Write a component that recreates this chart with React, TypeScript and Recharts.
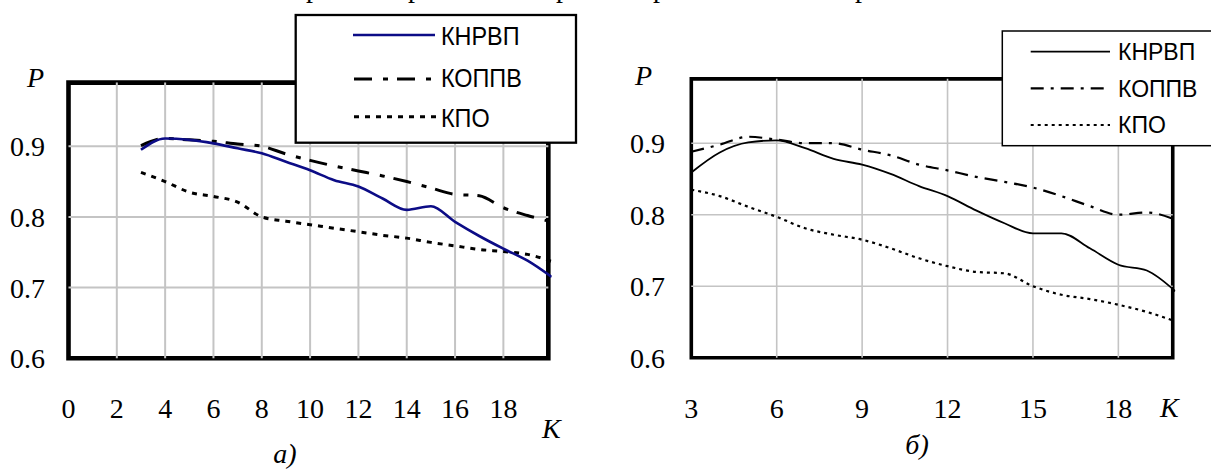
import React from 'react';
import { LineChart, Line, XAxis, YAxis, ReferenceLine, ReferenceArea } from 'recharts';

// ---------- data ----------
const kValues = [3, 4, 5, 6, 7, 8, 9, 10, 11, 12, 13, 14, 15, 16, 17, 18, 19, 20];
const seriesNames = ['КНРВП', 'КОППВ', 'КПО'];

// chart а)
const aKnrvp = [0.895, 0.911, 0.909, 0.904, 0.897, 0.890, 0.878, 0.866, 0.852, 0.843, 0.826, 0.810, 0.815, 0.793, 0.773, 0.755, 0.738, 0.715];
const aKoppv = [0.901, 0.911, 0.909, 0.907, 0.903, 0.900, 0.889, 0.880, 0.872, 0.865, 0.858, 0.850, 0.841, 0.832, 0.830, 0.813, 0.802, 0.793];
const aKpo = [0.863, 0.850, 0.835, 0.829, 0.821, 0.800, 0.794, 0.789, 0.784, 0.779, 0.774, 0.770, 0.764, 0.759, 0.754, 0.751, 0.747, 0.737];

// chart б)
const bKnrvp = [0.859, 0.887, 0.901, 0.904, 0.893, 0.878, 0.870, 0.857, 0.840, 0.826, 0.806, 0.788, 0.774, 0.774, 0.753, 0.730, 0.722, 0.693];
const bKoppv = [0.888, 0.898, 0.909, 0.905, 0.900, 0.900, 0.891, 0.883, 0.870, 0.862, 0.853, 0.846, 0.838, 0.826, 0.812, 0.800, 0.803, 0.793];
const bKpo = [0.835, 0.826, 0.811, 0.797, 0.781, 0.772, 0.765, 0.753, 0.739, 0.728, 0.720, 0.718, 0.700, 0.688, 0.682, 0.674, 0.664, 0.651];

const aXTicks = [0, 2, 4, 6, 8, 10, 12, 14, 16, 18];
const bXTicks = [3, 6, 9, 12, 15, 18];
const yTicks = [0.6, 0.7, 0.8, 0.9];
const aGridX = [2, 4, 6, 8, 10, 12, 14, 16, 18];
const bGridX = [6, 9, 12, 15, 18];
const gridY = [0.7, 0.8, 0.9];
const yDomain: [number, number] = [0.6, 0.99];
const aXDomain: [number, number] = [0, 20];
const bXDomain: [number, number] = [3, 20];
const aFrameRight = 19.86;
const bFrameRight = 19.91;
const topFragments = [306, 408, 556, 653, 855];

const aData = kValues.map((k, i) => ({ k, knrvp: aKnrvp[i], koppv: aKoppv[i], kpo: aKpo[i] }));
const bData = kValues.map((k, i) => ({ k, knrvp: bKnrvp[i], koppv: bKoppv[i], kpo: bKpo[i] }));

const SERIF = 'Liberation Serif';
const SANS = 'Liberation Sans';
const GRID = '#c4c4c4';

const serifText = { fontFamily: SERIF, fontSize: 28 } as const;
const italicText = { fontFamily: SERIF, fontSize: 28, fontStyle: 'italic' } as const;

const makeXTick = (baseline: number) => (props: any) => (
  <text x={props.x} y={baseline} textAnchor="middle" style={serifText} fill="#000">
    {props.payload.value}
  </text>
);
const makeYTick = (rightX: number) => (props: any) => (
  <text x={rightX} y={props.y + 10} textAnchor="end" style={serifText} fill="#000">
    {Number(props.payload.value).toFixed(1)}
  </text>
);

export default function App() {
  return (
    <div style={{ position: 'absolute', left: 0, top: 0, width: 1211, height: 471, background: '#fff', overflow: 'hidden' }}>
      <div style={{ position: 'absolute', left: 0, top: 0 }}>
        <LineChart width={600} height={471} data={aData} margin={{ top: 82.6, right: 48.3, bottom: 102.7, left: 58.5 }}>
          <XAxis type="number" dataKey="k" domain={aXDomain} ticks={aXTicks} height={10} axisLine={false} tickLine={false}
            tick={makeXTick(417.5)} interval={0} allowDataOverflow />
          <YAxis type="number" domain={yDomain} ticks={yTicks} width={10} axisLine={false} tickLine={false}
            tick={makeYTick(45)} interval={0} allowDataOverflow />
          {gridY.map((v) => (
            <ReferenceLine key={'gy' + v} segment={[{ x: 0, y: v }, { x: aFrameRight, y: v }]} stroke={GRID} strokeWidth={2} />
          ))}
          {aGridX.map((v) => (
            <ReferenceLine key={'gx' + v} segment={[{ x: v, y: yDomain[0] }, { x: v, y: yDomain[1] }]} stroke={GRID} strokeWidth={2} />
          ))}
          <ReferenceArea x1={0} x2={aFrameRight} y1={yDomain[0]} y2={yDomain[1]} fill="none" fillOpacity={0} stroke="#000" strokeWidth={4.6} />
          <Line type="monotone" dataKey="koppv" name={seriesNames[1]} stroke="#000" strokeWidth={3} strokeDasharray="18 11 5 9" dot={false} isAnimationActive={false} />
          <Line type="monotone" dataKey="kpo" name={seriesNames[2]} stroke="#000" strokeWidth={3} strokeDasharray="5 6" dot={false} isAnimationActive={false} />
          <Line type="monotone" dataKey="knrvp" name={seriesNames[0]} stroke="#0c0c86" strokeWidth={2.6} dot={false} isAnimationActive={false} />
        </LineChart>
      </div>
      <div style={{ position: 'absolute', left: 600, top: 0 }}>
        <LineChart width={611} height={471} data={bData} margin={{ top: 78.85, right: 35.7, bottom: 103.3, left: 81.3 }}>
          <XAxis type="number" dataKey="k" domain={bXDomain} ticks={bXTicks} height={10} axisLine={false} tickLine={false}
            tick={makeXTick(417.5)} interval={0} allowDataOverflow />
          <YAxis type="number" domain={yDomain} ticks={yTicks} width={10} axisLine={false} tickLine={false}
            tick={makeYTick(65)} interval={0} allowDataOverflow />
          {gridY.map((v) => (
            <ReferenceLine key={'gy' + v} segment={[{ x: 3, y: v }, { x: bFrameRight, y: v }]} stroke={GRID} strokeWidth={1.6} />
          ))}
          {bGridX.map((v) => (
            <ReferenceLine key={'gx' + v} segment={[{ x: v, y: yDomain[0] }, { x: v, y: yDomain[1] }]} stroke={GRID} strokeWidth={1.6} />
          ))}
          <ReferenceArea x1={3} x2={bFrameRight} y1={yDomain[0]} y2={yDomain[1]} fill="none" fillOpacity={0} stroke="#000" strokeWidth={3.6} />
          <Line type="monotone" dataKey="koppv" name={seriesNames[1]} stroke="#000" strokeWidth={2.2} strokeDasharray="13 7 3 7" dot={false} isAnimationActive={false} />
          <Line type="monotone" dataKey="kpo" name={seriesNames[2]} stroke="#000" strokeWidth={2.2} strokeDasharray="3 4" dot={false} isAnimationActive={false} />
          <Line type="monotone" dataKey="knrvp" name={seriesNames[0]} stroke="#000" strokeWidth={1.8} dot={false} isAnimationActive={false} />
        </LineChart>
      </div>
      <svg width={1211} height={471} style={{ position: 'absolute', left: 0, top: 0, overflow: 'visible', pointerEvents: 'none' }}>
        {topFragments.map((x) => (
          <text key={'f' + x} x={x} y={-3} style={serifText} fill="#000">р</text>
        ))}
        {/* left legend */}
        <rect x={295.7} y={15} width={280.3} height={127.7} fill="#fff" stroke="#000" strokeWidth={2.3} />
        <line x1={353} y1={35} x2={435} y2={35} stroke="#0c0c86" strokeWidth={2.6} />
        <line x1={354} y1={79} x2={432} y2={79} stroke="#000" strokeWidth={3} strokeDasharray="18 11 5 9" />
        <line x1={354} y1={116.7} x2={436} y2={116.7} stroke="#000" strokeWidth={3} strokeDasharray="5 6" />
        {[45, 87.3, 127].map((b, i) => (
          <text key={'la' + i} transform={`translate(441,${b}) scale(0.9,1)`} style={{ fontFamily: SANS, fontSize: 26 }} fill="#000">{seriesNames[i]}</text>
        ))}
        {/* right legend */}
        <rect x={1002.3} y={31} width={240} height={114.7} fill="#fff" stroke="#000" strokeWidth={1.5} />
        <line x1={1030.7} y1={51.7} x2={1110} y2={51.7} stroke="#000" strokeWidth={1.8} />
        <line x1={1030.7} y1={88.3} x2={1107} y2={88.3} stroke="#000" strokeWidth={2.2} strokeDasharray="13 7 3 7" />
        <line x1={1030.7} y1={125} x2={1110} y2={125} stroke="#000" strokeWidth={2.2} strokeDasharray="3 4" />
        {[60, 96.5, 133.2].map((b, i) => (
          <text key={'lb' + i} x={1118} y={b} style={{ fontFamily: SANS, fontSize: 23 }} fill="#000">{seriesNames[i]}</text>
        ))}
        {/* axis titles */}
        <text x={27} y={86.7} style={italicText} fill="#000">P</text>
        <text x={635} y={85} style={italicText} fill="#000">P</text>
        <text x={542} y={438.3} style={italicText} fill="#000">K</text>
        <text x={1160} y={417} style={italicText} fill="#000">K</text>
        <text x={285} y={463} textAnchor="middle" style={italicText} fill="#000">а)</text>
        <text x={917} y={454} textAnchor="middle" style={italicText} fill="#000">б)</text>
      </svg>
    </div>
  );
}
